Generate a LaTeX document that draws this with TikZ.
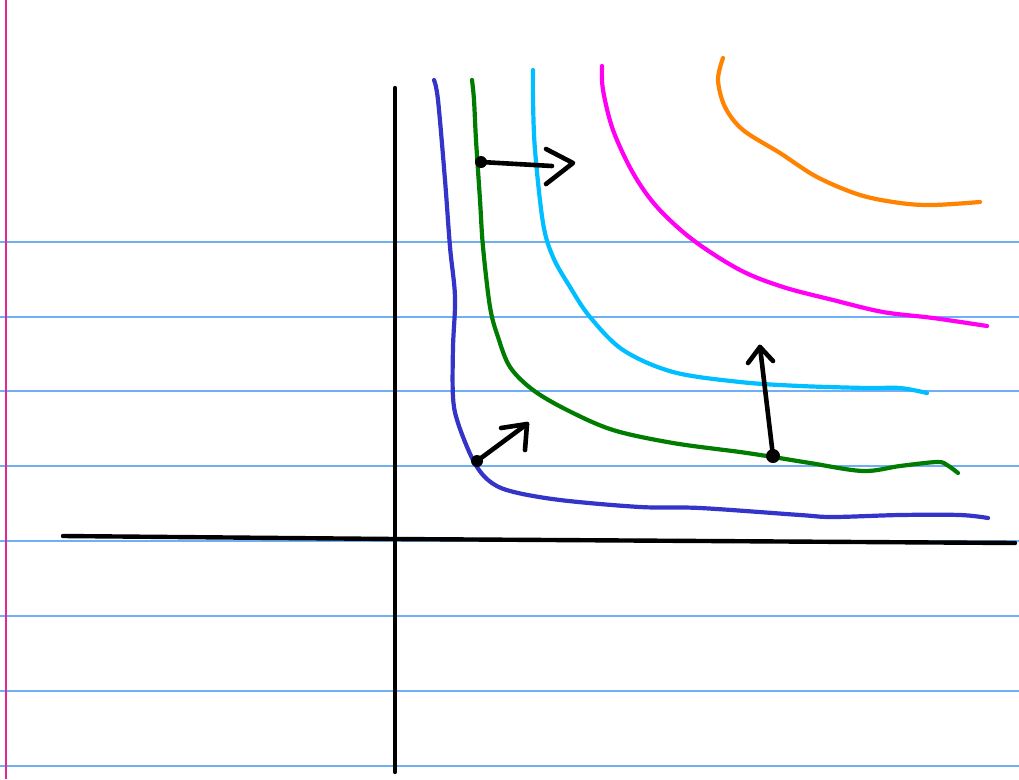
\documentclass[tikz,border=0pt]{standalone}
\usepackage{tikz}

\definecolor{ruleblue}{RGB}{110,175,245}
\definecolor{marginpink}{RGB}{225,40,150}
\definecolor{curveblue}{RGB}{52,52,200}
\definecolor{curvegreen}{RGB}{0,125,0}
\definecolor{curvecyan}{RGB}{0,190,255}
\definecolor{curvemagenta}{RGB}{255,0,245}
\definecolor{curveorange}{RGB}{255,130,0}

\tikzset{
    paperline/.style={ruleblue, line width=1.6pt},
    axisline/.style={black, line width=4.4pt, line cap=round},
    curve/.style={line width=4.2pt, line cap=round, line join=round},
    vecline/.style={black, line width=4.6pt, line cap=round, line join=round},
}

\begin{document}
\begin{tikzpicture}[x=1pt, y=-1pt]

        % (x, y): x to the right, y downwards, in pixels of the sheet
        \useasboundingbox[fill=white] (0, 0) rectangle (1019, 779);

        % lined paper
        \foreach \y in {242, 317, 391, 466, 541, 616, 691, 766}
            \draw[paperline] (0, \y) -- (1019, \y);
        \draw[marginpink, line width=2.6pt] (6, 0) -- (6, 779);

        % axes
        \draw[axisline] (395, 88) -- (395, 772);
        \draw[axisline] (63, 536) -- (395, 539) -- (1015, 543);

        % curves
        \draw[curve, curveblue] plot[smooth, tension=0.55] coordinates {
            (434, 80) (438, 100) (445, 180) (450, 247) (455, 297) (453, 347)
            (453, 397) (458, 423) (473, 460) (488, 480) (510, 491) (560, 500)
            (640, 507) (700, 508) (800, 515) (833, 517) (900, 515) (960, 515) (988, 518)};
        \draw[curve, curvegreen] plot[smooth, tension=0.55] coordinates {
            (472, 80) (474, 100) (476, 140) (480, 200) (483, 247) (490, 307)
            (498, 337) (510, 367) (533, 390) (567, 410) (613, 430) (673, 443)
            (740, 452) (773, 457) (810, 463) (863, 471) (900, 466) (937, 462) (947, 465) (958, 473)};
        %\draw (472, 80) -- (958, 473);
        \draw[curve, curvecyan] plot[smooth, tension=0.55] coordinates {
            (533, 70) (533, 100) (535, 150) (543, 223) (553, 257) (570, 287)
            (590, 317) (623, 350) (673, 372) (740, 382) (800, 386) (867, 388)
            (900, 388) (927, 393)};
        \draw[curve, curvemagenta] plot[smooth, tension=0.55] coordinates {
            (602, 66) (603, 90) (613, 130) (633, 173) (657, 207) (693, 240)
            (740, 270) (783, 287) (833, 300) (883, 312) (933, 318) (987, 326)};
        \draw[curve, curveorange] plot[smooth, tension=0.55] coordinates {
            (723, 58) (718, 80) (725, 107) (743, 130) (780, 153) (817, 177)
            (860, 195) (900, 203) (933, 205) (980, 202)};

        % points and vectors
        \coordinate (dotgreen) at (481, 162);
        \coordinate (endgreen) at (552, 166);
        \coordinate (tipgreen) at (573, 163);
        \coordinate (dotblue) at (477, 461);
        \coordinate (tipblue) at (527, 424);
        \coordinate (dotright) at (773, 456);
        \coordinate (tipright) at (760, 347);

        \fill (dotgreen) circle (6);
        \fill (dotblue) circle (6);
        \fill (dotright) circle (7);

        \draw[vecline] (dotgreen) -- (endgreen);
        \draw[vecline] (tipgreen) ++(-27, -14) -- (tipgreen) -- ++(-27, 21);
        \draw[vecline] (dotblue) -- (tipblue);
        \draw[vecline] (tipblue) ++(-26, 4) -- (tipblue) -- ++(-2, 26);
        \draw[vecline] (dotright) -- (tipright);
        \draw[vecline] (tipright) ++(-12, 16) -- (tipright) -- ++(13, 14);

    \end{tikzpicture}
\end{document}
